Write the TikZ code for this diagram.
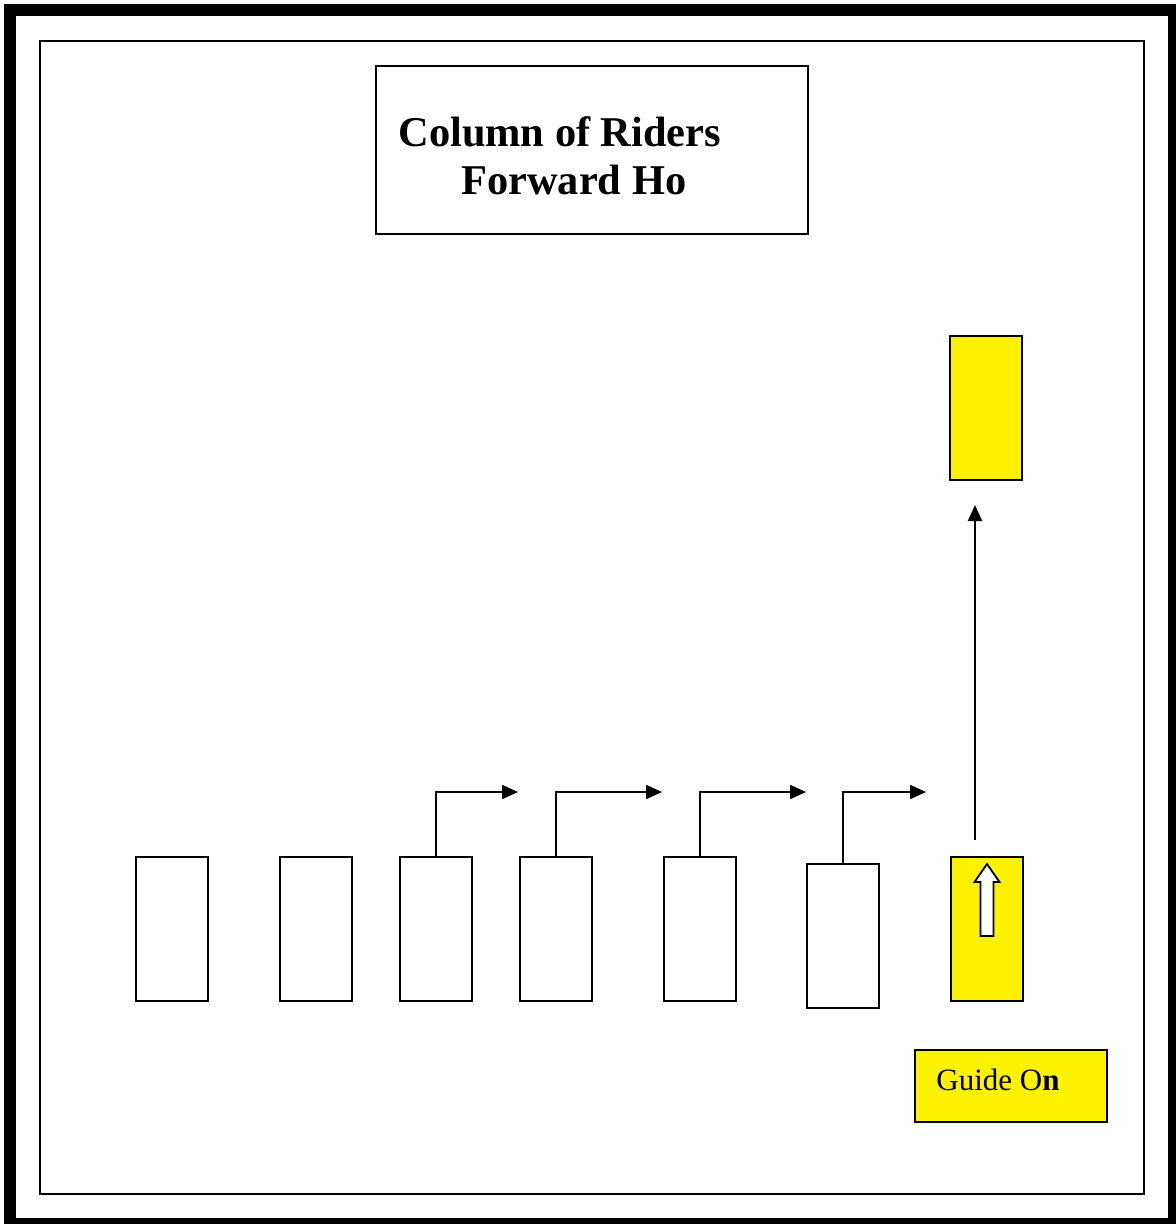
\documentclass[tikz,border=0pt]{standalone}
\usepackage{fontspec}
\setmainfont{Liberation Serif}
\usetikzlibrary{arrows.meta,positioning}

\begin{document}
\begin{tikzpicture}[
  x=0.5pt, y=-0.5pt,
  rider/.style={draw, line width=1pt, minimum width=36pt, minimum height=72pt, inner sep=0pt, fill=white},
  guide/.style={rider, fill=yellow},
  heading/.style={anchor=base west, inner sep=0pt, font=\fontsize{21.2}{24}\selectfont\bfseries},
  move/.style={-{Triangle[length=8pt,width=7pt]}, line width=1pt}
]
\useasboundingbox (0,0) rectangle (1175,1224);

% frames
\draw[line width=6pt] (10,10) rectangle (1174,1224);
\draw[line width=0.8pt] (40,41) rectangle (1144,1194);

% title
\node[draw, line width=0.8pt, minimum width=216pt, minimum height=84pt] (title) at (592,150) {};
\node[heading] (line1) at (398,147) {Column of Riders};
\node[heading] (line2) at (461,195) {Forward Ho};

% riders
\node[rider] (r1) at (172,929) {};
\node[rider] (r2) at (316,929) {};
\node[rider] (r3) at (436,929) {};
\node[rider] (r4) at (556,929) {};
\node[rider] (r5) at (700,929) {};
\node[rider] (r6) at (843,936) {};
\node[guide] (lead) at (987,929) {};
\node[guide] (front) at (986,408) {};

\node[draw, line width=1pt, fill=yellow, minimum width=96pt, minimum height=36pt] (flag) at (1011,1086) {};
\node[anchor=base west, inner sep=0pt, font=\fontsize{15.5}{18}\selectfont] (flagtext) at (936,1090) {Guide O\textbf{n}};

% turns to the right
\coordinate (t3) at (518,792);
\coordinate (t4) at (662,792);
\coordinate (t5) at (806,792);
\coordinate (t6) at (926,792);
\draw[move] (r3.north) |- (t3);
\draw[move] (r4.north) |- (t4);
\draw[move] (r5.north) |- (t5);
\draw[move] (r6.north) |- (t6);

% guide moves forward
\coordinate (go) at (975,840);
\coordinate (goal) at (975,505);
\draw[move] (go) -- (goal);

% block arrow in lead box
\draw[line width=0.9pt, fill=white] (980.5,936) -- (980.5,882) -- (974.5,882) -- (987,864)
  -- (999.5,882) -- (993.5,882) -- (993.5,936) -- cycle;

\end{tikzpicture}
\end{document}
